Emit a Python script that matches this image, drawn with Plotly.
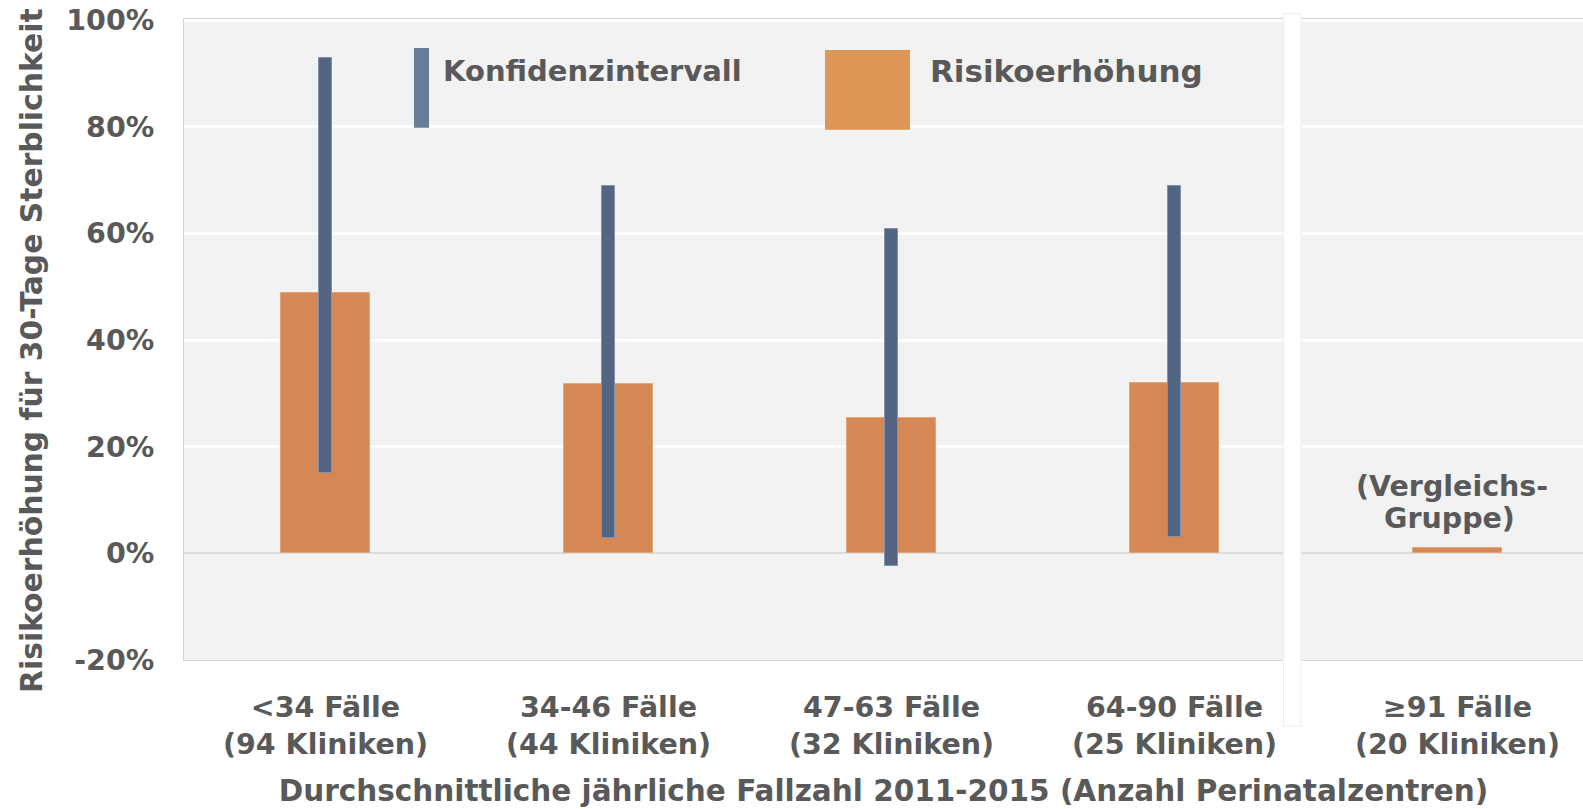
import plotly.graph_objects as go

# ---- data ----
categories = ["<34 Fälle<br>(94 Kliniken)", "34-46 Fälle<br>(44 Kliniken)",
              "47-63 Fälle<br>(32 Kliniken)", "64-90 Fälle<br>(25 Kliniken)",
              "≥91 Fälle<br>(20 Kliniken)"]
risk_increase = [48.8, 31.8, 25.4, 32.0, 1.0]
ci_lower = [15.0, 2.9, -2.3, 3.0]
ci_upper = [92.9, 68.9, 60.8, 68.9]
y_ticks = [-20, 0, 20, 40, 60, 80, 100]
y_ticktext = ["-20%", "0%", "20%", "40%", "60%", "80%", "100%"]
reference_label = ["(Vergleichs-", "Gruppe)"]

TEXT = "#595959"
FONT = "DejaVu Sans"
ORANGE = "#d58853"
BLUE = "#536582"

x_idx = list(range(len(categories)))

fig = go.Figure()
fig.add_trace(go.Bar(
    x=x_idx, y=risk_increase, width=0.311, name="Risikoerhöhung",
    marker=dict(color=ORANGE, line=dict(color="#e3a57a", width=1)),
    showlegend=False, hoverinfo="y"))
fig.add_trace(go.Bar(
    x=x_idx[:len(ci_lower)],
    y=[u - l for u, l in zip(ci_upper, ci_lower)],
    base=ci_lower, width=0.049, name="Konfidenzintervall",
    marker=dict(color=BLUE, line=dict(color="#8392aa", width=1)),
    showlegend=False))

W, H = 1583, 809
L, R, T, B = 184, 0, 19, 149
pw, ph = W - L - R, H - T - B

def px(x):
    return (x - L) / pw

def py(y):
    return (H - B - y) / ph

shapes = [
    # separator line
    dict(type="rect", xref="paper", yref="paper",
         x0=px(1283.5), x1=px(1301), y0=py(726), y1=py(13.5),
         fillcolor="white", line=dict(color="#ececec", width=1), layer="above"),
    # legend swatches
    dict(type="rect", xref="paper", yref="paper",
         x0=px(414), x1=px(429), y0=py(127.7), y1=py(48),
         fillcolor="#687c98", line=dict(width=0)),
    dict(type="rect", xref="paper", yref="paper",
         x0=px(825), x1=px(910), y0=py(129.7), y1=py(50),
         fillcolor="#dc9756", line=dict(width=0)),
]

bold = lambda s: dict(family=FONT, size=s, color=TEXT, weight="bold")

annotations = [
    dict(text="Konfidenzintervall", xref="paper", yref="paper",
         x=px(441), y=py(71), xanchor="left", yanchor="middle", showarrow=False,
         font=bold(29)),
    dict(text="Risikoerhöhung", xref="paper", yref="paper",
         x=px(928), y=py(70.5), xanchor="left", yanchor="middle", showarrow=False,
         font=bold(31)),
    dict(text=reference_label[0], x=4, y=12.5, xref="x", yref="y",
         xshift=-6, xanchor="center", yanchor="middle", showarrow=False,
         font=bold(28.5)),
    dict(text=reference_label[1], x=4, y=6.5, xref="x", yref="y",
         xshift=-8, xanchor="center", yanchor="middle", showarrow=False,
         font=bold(28.5)),
    # y axis title
    dict(text="Risikoerhöhung für 30-Tage Sterblichkeit", xref="paper", yref="paper",
         x=px(31), y=py(351), xanchor="center", yanchor="middle", textangle=-90,
         showarrow=False, font=bold(29.8)),
]

fig.update_layout(
    width=W, height=H,
    margin=dict(l=L, r=R, t=T, b=B, autoexpand=False),
    paper_bgcolor="white", plot_bgcolor="#f2f2f2",
    barmode="overlay", bargap=0,
    shapes=shapes, annotations=annotations,
    font=dict(family=FONT, color=TEXT),
    xaxis=dict(
        range=[-0.5, -0.5 + pw / 283.0], tickvals=x_idx, ticktext=categories,
        showgrid=False, zeroline=False, showline=True, linecolor="#d4d4d4",
        linewidth=1, mirror=True, ticks="", ticklabelstandoff=22,
        tickfont=bold(28.5),
        title=dict(text="Durchschnittliche jährliche Fallzahl 2011-2015 (Anzahl Perinatalzentren)",
                   font=bold(29.5), standoff=20),
        automargin=False, fixedrange=True),
    yaxis=dict(
        range=[-20.0, 100.2], tickvals=y_ticks, ticktext=y_ticktext,
        showgrid=True, gridcolor="white", gridwidth=3,
        zeroline=True, zerolinecolor="#dcdcdc", zerolinewidth=2,
        showline=True, linecolor="#d4d4d4", linewidth=1, mirror=True,
        ticks="", ticklabelstandoff=23,
        tickfont=bold(28.5),
        automargin=False, fixedrange=True),
)

fig.write_html("out.html")
